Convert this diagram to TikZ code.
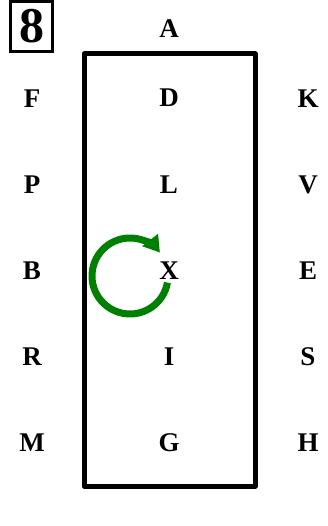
\documentclass[tikz,border=0pt]{standalone}
\usepackage{fontspec}
\setmainfont{Liberation Serif}
\usetikzlibrary{arrows.meta}
\definecolor{arrowgreen}{RGB}{0,128,0}
\begin{document}
\begin{tikzpicture}[x=1pt,y=-1pt,
  lab/.style={font=\fontsize{27}{32}\selectfont\bfseries, inner sep=0pt, anchor=center},
  frame/.style={draw=black, line width=5pt, line join=round},
  numbox/.style={draw=black, line width=3.2pt, minimum width=41.5pt, minimum height=50pt, inner sep=0pt, font=\fontsize{50}{54}\selectfont\bfseries}]
\path[use as bounding box] (0,0) rectangle (327,526);
\node[numbox] (num) at (31.5,26.5) {8};
\draw[frame] (84,54) rectangle (255,486);
\node[lab] (A) at (169,29) {A};
\node[lab] (D) at (169,98) {D};
\node[lab] (L) at (169,185) {L};
\node[lab] (X) at (169,271) {X};
\node[lab] (I) at (169,357) {I};
\node[lab] (G) at (169,443) {G};
\node[lab] (F) at (32,99) {F};
\node[lab] (P) at (32,185) {P};
\node[lab] (B) at (32,271) {B};
\node[lab] (R) at (32,357) {R};
\node[lab] (M) at (32,443) {M};
\node[lab] (K) at (308,99) {K};
\node[lab] (V) at (308,185) {V};
\node[lab] (E) at (308,271) {E};
\node[lab] (S) at (308,357) {S};
\node[lab] (H) at (308,443) {H};
\coordinate (c) at (130,276);
\draw[arrowgreen, line width=7pt, -{Triangle[length=16pt,width=19pt]}]
  ([shift={(10:38)}]c) arc[start angle=10, end angle=322, radius=38];
\end{tikzpicture}
\end{document}
